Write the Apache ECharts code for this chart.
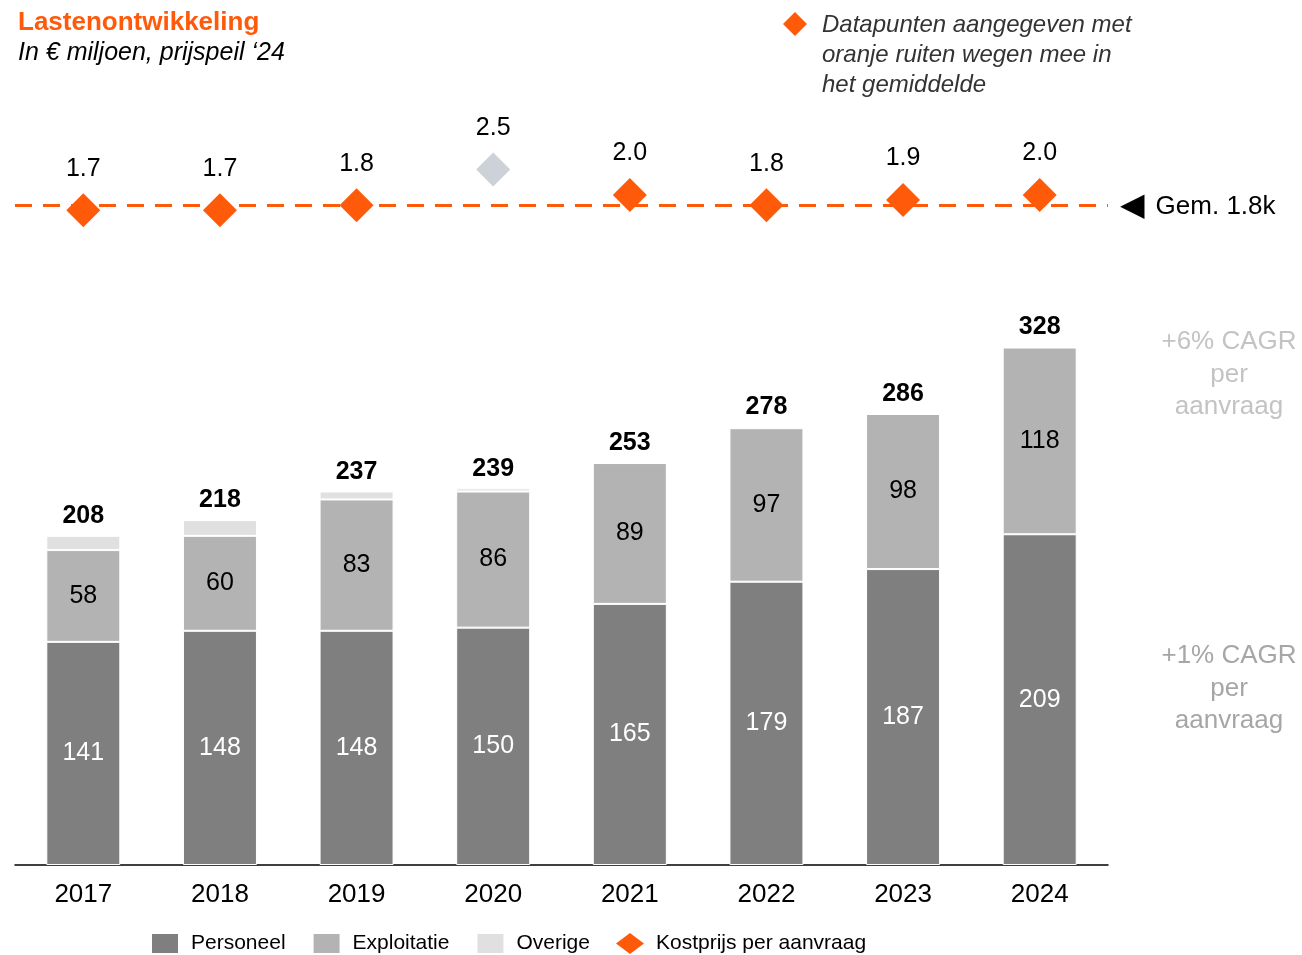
<!DOCTYPE html>
<html>
<head>
<meta charset="UTF-8">
<title>Lastenontwikkeling</title>
<script src="https://cdn.jsdelivr.net/npm/echarts@6/dist/echarts.min.js"></script>
<style>html,body{margin:0;padding:0;background:#fff}</style>
</head>
<body>
<div id="chart" style="width:1302px;height:955px;"></div>
<script>
// data
var years = ['2017', '2018', '2019', '2020', '2021', '2022', '2023', '2024'];
var personeel = [141, 148, 148, 150, 165, 179, 187, 209];
var exploitatie = [58, 60, 83, 86, 89, 97, 98, 118];
var overige = [9, 10, 5, 2, 0, 1, 0, 0];
var totaal = [208, 218, 237, 239, 253, 278, 286, 328];
var kostprijs = [1.7, 1.7, 1.8, 2.5, 2.0, 1.8, 1.9, 2.0];
var telMee = [true, true, true, false, true, true, true, true];
var gemiddelde = 1.8;

var ORANJE = '#ff5a0a';
var FONT = '"Liberation Sans", Arial, sans-serif';

var chart = echarts.init(document.getElementById('chart'));

var option = {
    backgroundColor: '#fff',
    animation: false,
    textStyle: {fontFamily: FONT},
    title: {
        text: 'Lastenontwikkeling',
        subtext: 'In \u20ac miljoen, prijspeil \u201824',
        left: 13,
        top: 5,
        itemGap: 5,
        textStyle: {fontFamily: FONT, fontSize: 26, fontWeight: 'bold', color: ORANJE},
        subtextStyle: {fontFamily: FONT, fontSize: 25, fontStyle: 'italic', color: '#000'}
    },
    legend: {
        left: 145,
        top: 927,
        itemWidth: 28,
        itemHeight: 21,
        itemGap: 26,
        selectedMode: false,
        textStyle: {fontFamily: FONT, fontSize: 21, color: '#000', padding: [0, 0, 0, 7]},
        data: [
            {name: 'Personeel', icon: 'rect'},
            {name: 'Exploitatie', icon: 'rect'},
            {name: 'Overige', icon: 'rect'},
            {name: 'Kostprijs per aanvraag', icon: 'diamond'}
        ]
    },
    grid: [
        {left: 15, right: 194, top: 232, bottom: 90},
        {left: 15, right: 194, top: 144, height: 102}
    ],
    xAxis: [
        {
            type: 'category',
            data: years,
            axisLine: {lineStyle: {color: '#000', width: 1.5}},
            axisTick: {show: false},
            axisLabel: {fontSize: 26, color: '#000', margin: 17, fontFamily: FONT}
        },
        {type: 'category', gridIndex: 1, data: years, show: false}
    ],
    yAxis: [
        {type: 'value', min: 0, max: 400, show: false},
        {type: 'value', gridIndex: 1, min: 1, max: 3, show: false}
    ],
    series: [
        {
            name: 'Personeel',
            type: 'bar',
            stack: 'lasten',
            barWidth: 74,
            data: personeel,
            itemStyle: {color: '#7f7f7f', borderColor: '#fff', borderWidth: 1},
            label: {show: true, position: 'inside', color: '#fff', fontSize: 25, fontFamily: FONT},
            emphasis: {disabled: true}
        },
        {
            name: 'Exploitatie',
            type: 'bar',
            stack: 'lasten',
            data: exploitatie,
            itemStyle: {color: '#b3b3b3', borderColor: '#fff', borderWidth: 1},
            label: {show: true, position: 'inside', color: '#000', fontSize: 25, fontFamily: FONT},
            emphasis: {disabled: true}
        },
        {
            name: 'Overige',
            type: 'bar',
            stack: 'lasten',
            data: overige,
            itemStyle: {color: '#e0e0e0', borderColor: '#fff', borderWidth: 1},
            label: {
                show: true,
                position: 'top',
                distance: 7,
                color: '#000',
                fontSize: 25,
                fontWeight: 'bold',
                fontFamily: FONT,
                formatter: function (p) { return totaal[p.dataIndex]; }
            },
            emphasis: {disabled: true}
        },
        {
            // gemiddelde als stippellijn, onder de ruiten
            name: 'Gemiddelde',
            type: 'line',
            xAxisIndex: 1,
            yAxisIndex: 1,
            data: [],
            z: 1,
            markLine: {
                silent: true,
                symbol: 'none',
                lineStyle: {color: ORANJE, type: [17, 11], width: 3},
                label: {
                    show: true,
                    position: 'end',
                    distance: 12,
                    formatter: '{tri|\u25c0}{t|Gem. 1.8k}',
                    rich: {
                        tri: {fontSize: 32, color: '#000', fontFamily: '"DejaVu Sans"', padding: [2, 0, 0, 0]},
                        t: {fontSize: 26, color: '#000', fontFamily: FONT, padding: [4, 0, 0, 11]}
                    }
                },
                data: [{yAxis: gemiddelde}]
            }
        },
        {
            name: 'Kostprijs per aanvraag',
            type: 'scatter',
            xAxisIndex: 1,
            yAxisIndex: 1,
            symbol: 'diamond',
            symbolSize: 34,
            z: 3,
            itemStyle: {color: ORANJE, opacity: 1},
            data: kostprijs.map(function (v, i) {
                return telMee[i] ? v : {value: v, itemStyle: {color: '#cdd1d8'}};
            }),
            label: {
                show: true,
                position: 'top',
                distance: 12,
                color: '#000',
                fontSize: 25,
                fontFamily: FONT,
                formatter: function (p) { return kostprijs[p.dataIndex].toFixed(1); }
            },
            emphasis: {disabled: true}
        }
    ],
    graphic: [
        {
            type: 'polygon',
            shape: {points: [[795, 12], [807, 24], [795, 36], [783, 24]]},
            style: {fill: ORANJE}
        },
        {
            type: 'text',
            left: 822,
            top: 10,
            style: {
                text: 'Datapunten aangegeven met\noranje ruiten wegen mee in\nhet gemiddelde',
                font: 'italic 24px ' + FONT,
                lineHeight: 30,
                fill: '#333'
            }
        },
        {
            type: 'text',
            x: 1229,
            y: 326,
            style: {
                text: '+6% CAGR\nper\naanvraag',
                font: '26px ' + FONT,
                lineHeight: 32.5,
                align: 'center',
                fill: '#c3c3c3'
            }
        },
        {
            type: 'text',
            x: 1229,
            y: 640,
            style: {
                text: '+1% CAGR\nper\naanvraag',
                font: '26px ' + FONT,
                lineHeight: 32.5,
                align: 'center',
                fill: '#a6a6a6'
            }
        }
    ]
};

chart.setOption(option);
</script>
</body>
</html>
